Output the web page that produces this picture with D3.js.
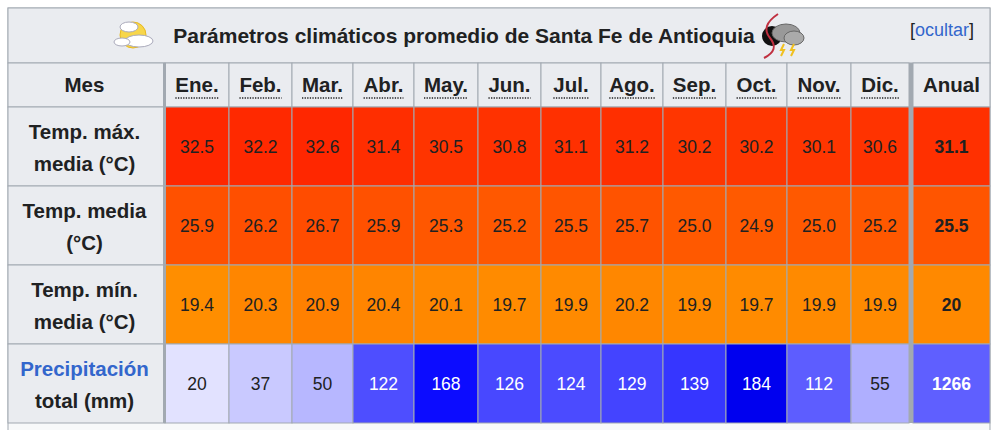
<!DOCTYPE html><html><head><meta charset="utf-8">
<script src="https://cdn.jsdelivr.net/npm/d3@7"></script>
<style>body{margin:0;background:#fff}svg{display:block}</style></head><body>
<script>
const title = "Parámetros climáticos promedio de Santa Fe de Antioquia";
const months = ["Ene.","Feb.","Mar.","Abr.","May.","Jun.","Jul.","Ago.","Sep.","Oct.","Nov.","Dic."];
const rowLabels = [["Temp. máx.","media (°C)"],["Temp. media","(°C)"],["Temp. mín.","media (°C)"],["Precipitación","total (mm)"]];
const tMax = [32.5,32.2,32.6,31.4,30.5,30.8,31.1,31.2,30.2,30.2,30.1,30.6];
const tMed = [25.9,26.2,26.7,25.9,25.3,25.2,25.5,25.7,25.0,24.9,25.0,25.2];
const tMin = [19.4,20.3,20.9,20.4,20.1,19.7,19.9,20.2,19.9,19.7,19.9,19.9];
const prec = [20,37,50,122,168,126,124,129,139,184,112,55];
const annual = ["31.1","25.5","20","1266"];

const W=1000,H=430;
const svg=d3.select("body").append("svg").attr("width",W).attr("height",H);
const font="Liberation Sans, Arial, sans-serif";
const L=8,R=990,T=8;
const colEdges=[8,165,229,292,353,414,478,541,601,663,726,787,851,913,990];
const rowEdges=[8,63,107,186,265,344,423];
const gcol = d3.scaleLinear().domain([19,26,33]).range([146,80,36]).clamp(true);
const tColor = t=>d3.rgb(255,Math.round(gcol(t)),0).toString();
const pc = d3.scaleLinear().domain([0,176]).range([255,0]).clamp(true);
const pColor = p=>{const v=Math.round(pc(p));return d3.rgb(v,v,p>176?Math.round(255-(p-176)*2):255).toString();};

svg.append("rect").attr("x",L).attr("y",T).attr("width",R-L).attr("height",H-T+2).attr("fill","#f8f9fa").attr("stroke","#a2a9b1");
svg.append("rect").attr("x",L).attr("y",T).attr("width",R-L).attr("height",rowEdges[1]-T).attr("fill","#eaecf0").attr("stroke","#a2a9b1");

// title
svg.append("text").attr("x",464).attr("y",43).attr("text-anchor","middle").attr("font-family",font).attr("font-weight","bold").attr("font-size",21).attr("fill","#202122").text(title);
svg.append("text").attr("x",974).attr("y",36).attr("text-anchor","end").attr("font-family",font).attr("font-size",18).attr("fill","#202122")
 .html('[<tspan fill="#3366cc">ocultar</tspan>]');
// sun icon
const ic=svg.append("g").attr("transform","translate(133,35)");
ic.append("circle").attr("r",13).attr("fill","#f7d64a").attr("stroke","#e8b820");
ic.append("ellipse").attr("cx",-4).attr("cy",-8).attr("rx",9).attr("ry",5).attr("fill","#fff").attr("stroke","#aab");
ic.append("ellipse").attr("cx",6).attr("cy",6).attr("rx",14).attr("ry",6).attr("fill","#fff").attr("stroke","#aab");
ic.append("ellipse").attr("cx",-11).attr("cy",7).attr("rx",8).attr("ry",4).attr("fill","#fff").attr("stroke","#aab");
// storm icon
const st=svg.append("g").attr("transform","translate(780,36)");
st.append("circle").attr("cx",-8).attr("cy",0).attr("r",10).attr("fill","#111");
st.append("path").attr("d","M-2,-22 Q-20,-10 -10,2 Q0,14 -16,22").attr("fill","none").attr("stroke","#c03040").attr("stroke-width",2);
st.append("ellipse").attr("cx",6).attr("cy",-3).attr("rx",14).attr("ry",9).attr("fill","#999").attr("stroke","#666");
st.append("ellipse").attr("cx",14).attr("cy",2).attr("rx",10).attr("ry",7).attr("fill","#aaa").attr("stroke","#666");
st.append("path").attr("d","M4,8 l-3,6 l3,0 l-3,6").attr("stroke","#f0c020").attr("fill","none").attr("stroke-width",2);
st.append("path").attr("d","M14,8 l-3,6 l3,0 l-3,6").attr("stroke","#f0c020").attr("fill","none").attr("stroke-width",2);

const rows=[tMax.map(v=>({t:v.toFixed(1),c:tColor(v)})),tMed.map(v=>({t:v.toFixed(1),c:tColor(v)})),tMin.map(v=>({t:v.toFixed(1),c:tColor(v)})),prec.map(v=>({t:String(v),c:pColor(v)}))];
const annColors=[tColor(+annual[0]),tColor(+annual[1]),tColor(+annual[2]),pColor(+annual[3]/12*1.05)];

function cell(x0,x1,y0,y1,fill){svg.append("rect").attr("x",x0).attr("y",y0).attr("width",x1-x0).attr("height",y1-y0).attr("fill",fill).attr("stroke","#a2a9b1").attr("stroke-width",1);}
function txt(x,y,s,opt={}){return svg.append("text").attr("x",x).attr("y",y).attr("text-anchor","middle").attr("font-family",font).attr("font-size",opt.size||17.5).attr("font-weight",opt.bold?"bold":"normal").attr("fill",opt.fill||"#202122").text(s);}
const pLum=c=>d3.hsl(c).l;

// header
cell(colEdges[0],colEdges[1],rowEdges[1],rowEdges[2],"#eaecf0");
txt((colEdges[0]+colEdges[1])/2-2,92,"Mes",{bold:1,size:20.5});
months.forEach((m,i)=>{const x0=colEdges[i+1],x1=colEdges[i+2]-(i==11?4:0);cell(x0,x1,rowEdges[1],rowEdges[2],"#eaecf0");
  const t=txt((x0+x1)/2,92,m,{bold:1,size:20.5});const w=t.node().getComputedTextLength();
  svg.append("line").attr("x1",(x0+x1)/2-w/2).attr("x2",(x0+x1)/2+w/2).attr("y1",98).attr("y2",98).attr("stroke","#202122").attr("stroke-dasharray","1.3,1.3").attr("stroke-width",1.3);});
cell(colEdges[13],colEdges[14],rowEdges[1],rowEdges[2],"#eaecf0");
txt((colEdges[13]+colEdges[14])/2,92,"Anual",{bold:1,size:20.5});

rows.forEach((r,ri)=>{const y0=rowEdges[ri+2],y1=rowEdges[ri+3],ym=(y0+y1)/2;
  cell(colEdges[0],colEdges[1],y0,y1,"#eaecf0");
  txt((colEdges[0]+colEdges[1])/2-2,ym-8,rowLabels[ri][0],{bold:1,size:20.5,fill:ri==3?"#3366cc":"#202122"});
  txt((colEdges[0]+colEdges[1])/2-2,ym+24,rowLabels[ri][1],{bold:1,size:20.5});
  r.forEach((d,i)=>{const x0=colEdges[i+1],x1=colEdges[i+2]-(i==11?4:0);cell(x0,x1,y0,y1,d.c);
    txt((x0+x1)/2,ym+6,d.t,{fill:ri==3&&pLum(d.c)<0.75?"#fff":"#202122"});});
  cell(colEdges[13],colEdges[14],y0,y1,annColors[ri]);
  txt((colEdges[13]+colEdges[14])/2,ym+6,annual[ri],{bold:1,fill:ri==3?"#fff":"#202122"});
});
[[163,166],[909,913]].forEach(([a,b])=>svg.append("rect").attr("x",a).attr("y",rowEdges[1]).attr("width",b-a).attr("height",rowEdges[6]-rowEdges[1]).attr("fill","#a2a9b1"));
</script></body></html>
